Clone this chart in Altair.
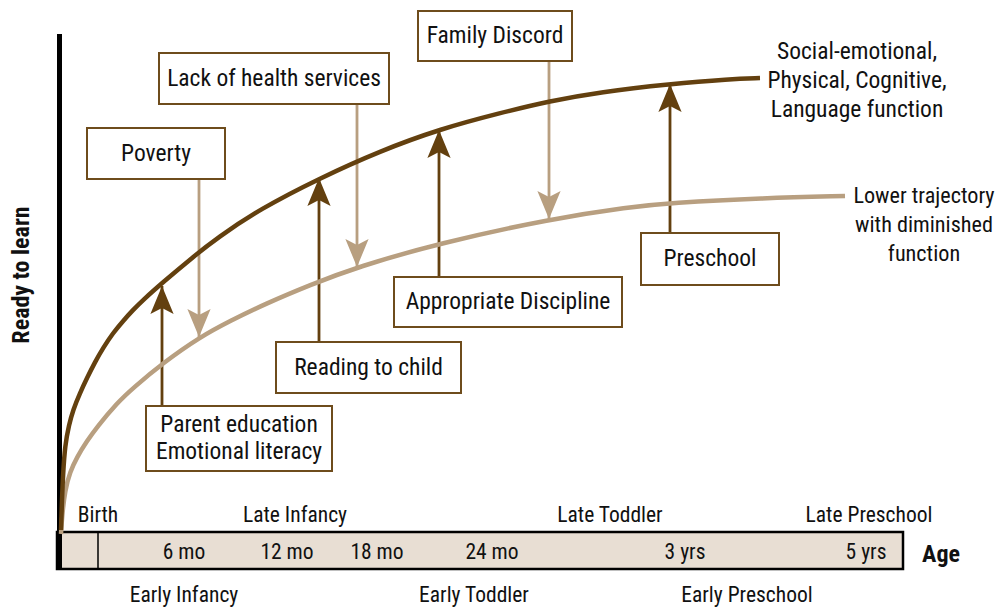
import altair as alt
import pandas as pd

FONT = "Roboto Condensed, DejaVu Sans Condensed, sans-serif"
DARK = "#63400F"
TAN = "#B89F80"
BOXLINE = "#6E4C1C"
INK = "#111111"
BARFILL = "#E8DED3"

W, H = 987, 600

# ---- curves (diagram units) ----
upper_x = [61, 62, 63, 65, 69, 73, 80, 87, 95, 103, 113, 123, 133, 143, 162, 193, 217, 260,
           320, 380, 440, 500, 550, 600, 670, 730, 760]
upper_y = [530, 500, 475, 445, 425, 410, 393, 378, 362, 348, 333, 321, 310, 300, 283, 257, 238, 209,
           178, 151, 129, 113, 101, 92, 84, 79, 78]
lower_x = [61, 62, 65, 70, 77, 87, 97, 117, 133, 163, 200, 230, 265, 310, 357, 440, 550, 630, 670, 763, 845]
lower_y = [534, 517, 490, 472, 457, 441, 427, 403, 388, 363, 337, 321, 304, 285, 267, 243, 219, 207, 203, 198, 196]

# ---- influence boxes ----
box_labels = ["Poverty", "Lack of health services", "Family Discord",
              "Parent education\nEmotional literacy", "Reading to child",
              "Appropriate Discipline", "Preschool"]
box_x0 = [87, 159, 418, 146, 276, 394, 641]
box_x1 = [225, 389, 572, 332, 461, 622, 779]
box_y0 = [128, 53, 11, 406, 342, 277, 233]
box_y1 = [179, 104, 61, 471, 393, 327, 285]
arrow_x = [199, 357, 549, 162, 319, 439, 670]
arrow_tip = [337, 267, 219, 286, 178, 130, 84]
arrow_dir = ["down", "down", "down", "up", "up", "up", "up"]

# ---- age bar ----
tick_labels = ["6 mo", "12 mo", "18 mo", "24 mo", "3 yrs", "5 yrs"]
tick_x = [184, 287, 377, 492, 685, 866]
late_labels = ["Birth", "Late Infancy", "Late Toddler", "Late Preschool"]
late_x = [98, 295, 610, 869]
early_labels = ["Early Infancy", "Early Toddler", "Early Preschool"]
early_x = [184, 474, 747]

# ---- end labels ----
end_labels = ["Social-emotional,\nPhysical, Cognitive,\nLanguage function",
              "Lower trajectory\nwith diminished\nfunction"]
end_x = [857, 924]
end_y = [52, 196]
end_size = [23.5, 22.2]

LH = 27      # line height inside boxes
BOX_FS = 23.5
AX_FS = 21.5

xs = alt.Scale(domain=[8, 8 + W], nice=False, zero=False)
ys = alt.Scale(domain=[8 + H, 8], nice=False, zero=False)

def X(f="x"):
    return alt.X(f"{f}:Q", scale=xs, axis=None)

def Y(f="y"):
    return alt.Y(f"{f}:Q", scale=ys, axis=None)

curves = pd.DataFrame({
    "x": upper_x + lower_x,
    "y": upper_y + lower_y,
    "s": ["upper"] * len(upper_x) + ["lower"] * len(lower_x),
})

boxes = pd.DataFrame({
    "label": box_labels, "x0": box_x0, "x1": box_x1, "y0": box_y0, "y1": box_y1,
    "ax": arrow_x, "tip": arrow_tip, "dir": arrow_dir,
})
boxes["cx"] = (boxes.x0 + boxes.x1) / 2
nlines = boxes.label.str.count("\n")
boxes["cy"] = (boxes.y0 + boxes.y1) / 2 - nlines * LH / 2
boxes["start"] = [r.y1 if r.dir == "down" else r.y0 for r in boxes.itertuples()]

ups = boxes[boxes.dir == "up"]
downs = boxes[boxes.dir == "down"]

# bar
bar_df = pd.DataFrame({"x0": [57], "x1": [903], "y0": [532], "y1": [569]})
bar = alt.Chart(bar_df).mark_rect(fill=BARFILL, stroke="black", strokeWidth=2.5).encode(
    x=X("x0"), x2="x1", y=Y("y0"), y2="y1")
divider = alt.Chart(pd.DataFrame({"x": [98], "y0": [532], "y1": [569]})).mark_rule(
    color="black", strokeWidth=1.5).encode(x=X("x"), y=Y("y0"), y2="y1")
yaxis_line = alt.Chart(pd.DataFrame({"x": [59.5], "y0": [34], "y1": [569]})).mark_rule(
    color="black", strokeWidth=5).encode(x=X("x"), y=Y("y0"), y2="y1")

# shafts
shaft_up = alt.Chart(ups).mark_rule(color=DARK, strokeWidth=2.8).encode(
    x=X("ax"), y=Y("start"), y2="tip")
shaft_down = alt.Chart(downs).mark_rule(color=TAN, strokeWidth=2.8).encode(
    x=X("ax"), y=Y("start"), y2="tip")

# curves
upper_line = alt.Chart(curves[curves.s == "upper"]).mark_line(
    color=DARK, strokeWidth=4.5, interpolate="basis").encode(x=X(), y=Y(), order="x:Q")
lower_line = alt.Chart(curves[curves.s == "lower"]).mark_line(
    color=TAN, strokeWidth=4.5, interpolate="basis").encode(x=X(), y=Y(), order="x:Q")

UP_HEAD = "M0,-1 L0.83,1 L0,0.57 L-0.83,1 Z"
DOWN_HEAD = "M0,1 L0.83,-1 L0,-0.57 L-0.83,-1 Z"
head_up = alt.Chart(ups).mark_point(
    shape=UP_HEAD, size=784, filled=True, fill=DARK, opacity=1, yOffset=14).encode(
    x=X("ax"), y=Y("tip"))
head_down = alt.Chart(downs).mark_point(
    shape=DOWN_HEAD, size=784, filled=True, fill=TAN, opacity=1, yOffset=-14).encode(
    x=X("ax"), y=Y("tip"))

box_rect = alt.Chart(boxes).mark_rect(fill="white", stroke=BOXLINE, strokeWidth=2).encode(
    x=X("x0"), x2="x1", y=Y("y0"), y2="y1")
box_text = alt.Chart(boxes).mark_text(
    font=FONT, fontSize=BOX_FS, color=INK, align="center", baseline="middle",
    lineBreak="\n", lineHeight=LH).encode(x=X("cx"), y=Y("cy"), text="label:N")

# age labels
def label_layer(labels, xvals, yval, size, weight="normal"):
    df = pd.DataFrame({"t": labels, "x": xvals, "y": [yval] * len(labels)})
    return alt.Chart(df).mark_text(
        font=FONT, fontSize=size, fontWeight=weight, color=INK, align="center",
        baseline="middle").encode(x=X(), y=Y(), text="t:N")

ticks = label_layer(tick_labels, tick_x, 553, AX_FS)
lates = label_layer(late_labels, late_x, 516, AX_FS)
earlies = label_layer(early_labels, early_x, 596, AX_FS)
age_title = label_layer(["Age"], [941], 555, 24, "bold")

ytitle_df = pd.DataFrame({"t": ["Ready to learn"], "x": [22], "y": [275]})
ytitle = alt.Chart(ytitle_df).mark_text(
    font=FONT, fontSize=24, fontWeight="bold", color=INK, angle=270,
    align="center", baseline="middle").encode(x=X(), y=Y(), text="t:N")

end_df = pd.DataFrame({"t": end_labels, "x": end_x, "y": end_y, "fs": end_size})
end_text = alt.Chart(end_df).mark_text(
    font=FONT, color=INK, align="center", baseline="middle",
    lineBreak="\n", lineHeight=29).encode(
    x=X(), y=Y(), text="t:N", size=alt.Size("fs:Q", scale=None, legend=None))

chart = alt.layer(
    bar, divider, yaxis_line, shaft_up, shaft_down, lower_line, upper_line,
    head_up, head_down, box_rect, box_text, ticks, lates, earlies, age_title,
    ytitle, end_text,
).properties(
    width=W, height=H, padding=0, autosize="none"
).configure_view(stroke=None)

chart.save("out.html", embed_options={"renderer": "svg", "actions": False})
